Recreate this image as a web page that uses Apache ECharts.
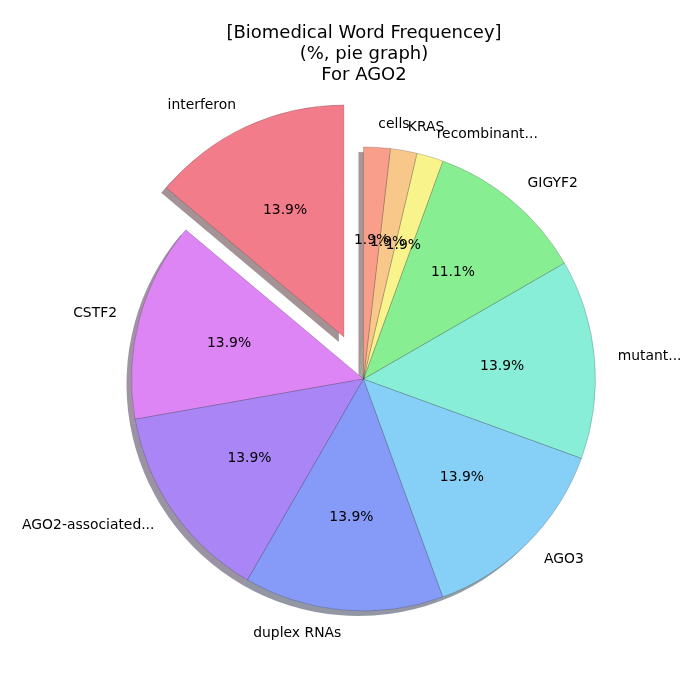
<!DOCTYPE html>
<html>
<head>
<meta charset="utf-8">
<script src="https://cdn.jsdelivr.net/npm/echarts@6/dist/echarts.min.js"></script>
<style>html,body{margin:0;padding:0;background:#fff}#c{width:700px;height:700px}</style>
</head>
<body>
<div id="c"></div>
<script>
var categories = ['interferon', 'CSTF2', 'AGO2-associated...', 'duplex RNAs', 'AGO3', 'mutant...', 'GIGYF2', 'recombinant...', 'KRAS', 'cells'];
var counts = [15, 15, 15, 15, 15, 15, 12, 2, 2, 2];
var colors = ['#F27C8A', '#DE85F5', '#A985F5', '#869BF7', '#86CFF7', '#88EED8', '#88EE92', '#F8F38B', '#F8C88A', '#F89E8A'];
var explodedIndex = 0;
var titleText = '[Biomedical Word Frequencey]\n(%, pie graph)\nFor AGO2';

var total = counts.reduce(function (a, b) { return a + b; }, 0);
function shade(hex) {
  var r = parseInt(hex.slice(1, 3), 16), g = parseInt(hex.slice(3, 5), 16), b = parseInt(hex.slice(5, 7), 16);
  return 'rgba(' + Math.round(r * 0.3) + ',' + Math.round(g * 0.3) + ',' + Math.round(b * 0.3) + ',0.5)';
}
var R = 232, CX = 363.5, CY = 379, OFF = 0.2 * R;
var FONT = 'DejaVu Sans';

function makeData(colorFn) {
  return categories.map(function (n, i) {
    return { name: n, value: counts[i], selected: i === explodedIndex, itemStyle: { color: colorFn(i) } };
  });
}
var common = {
  type: 'pie', startAngle: 90, clockwise: false, selectedMode: 'single', selectedOffset: OFF,
  avoidLabelOverlap: false, silent: true, animation: false, emphasis: { disabled: true, scale: false },
  minAngle: 0, minShowLabelAngle: 0, stillShowZeroSum: false,
  labelLayout: { hideOverlap: false }
};

var chart = echarts.init(document.getElementById('c'), null, { renderer: 'canvas' });
chart.setOption({
  backgroundColor: '#ffffff',
  animation: false,
  title: {
    text: titleText, left: 364, top: 23.5, textAlign: 'center', padding: 0,
    textStyle: { fontFamily: FONT, fontSize: 18, fontWeight: 'normal', color: '#000', lineHeight: 20.6 }
  },
  series: [
    Object.assign({}, common, {
      name: 'shadow', z: 1, center: [CX - 5, CY + 5], radius: [0, R],
      data: makeData(function (i) { return shade(colors[i]); }),
      label: { show: false }, labelLine: { show: false }
    }),
    Object.assign({}, common, {
      name: 'main', z: 2, center: [CX, CY], radius: [0, R],
      data: makeData(function (i) { return colors[i]; }),
      itemStyle: { borderColor: 'rgba(40,40,40,0.45)', borderWidth: 0.5 },
      label: {
        show: true, position: 'outside', formatter: '{b}', distanceToLabelLine: 0,
        fontFamily: FONT, fontSize: 13.9, color: '#000', verticalAlign: 'middle'
      },
      labelLine: { show: false, length: 0.1 * R, length2: 0 }
    }),
    Object.assign({}, common, {
      name: 'pct', z: 3, center: [CX, CY], radius: [0.6 * R * 2 - R - 6, R],
      data: makeData(function () { return 'rgba(0,0,0,0)'; }),
      label: {
        show: true, position: 'inside',
        formatter: function (p) { return (p.value / total * 100).toFixed(1) + '%'; },
        fontFamily: FONT, fontSize: 13.9, color: '#000'
      },
      labelLine: { show: false }
    })
  ]
});
</script>
</body>
</html>
